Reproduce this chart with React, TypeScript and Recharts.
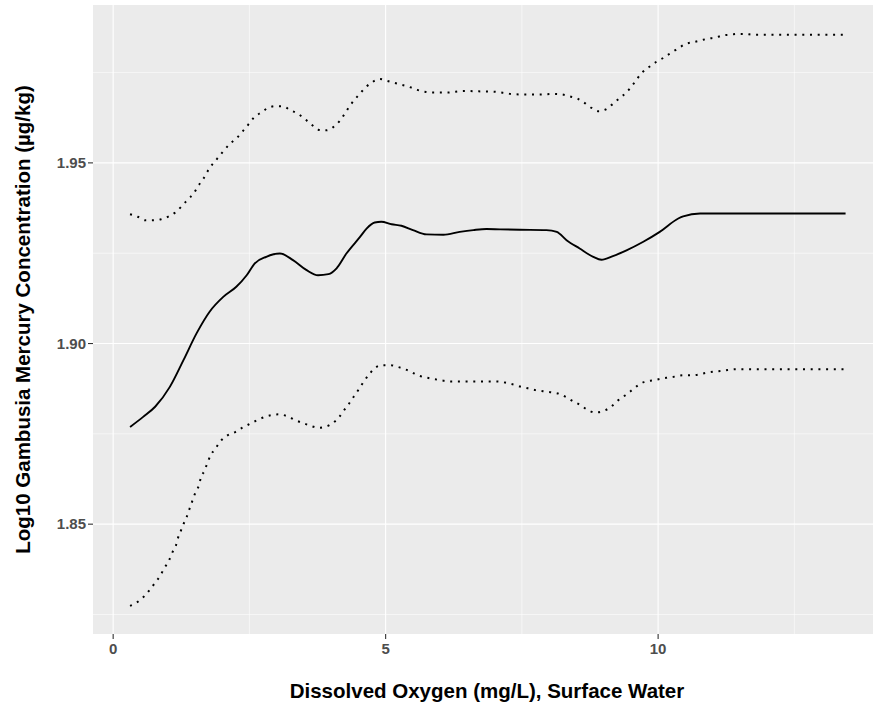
import React from 'react';
import { LineChart, Line, XAxis, YAxis, CartesianGrid, Label } from 'recharts';

// smoothed fit and its upper / lower confidence bands
const fitX = [0.31, 0.55, 0.77, 1.04, 1.29, 1.53, 1.77, 2.02, 2.26, 2.45, 2.6, 2.81, 3.06, 3.3, 3.55, 3.76, 3.95, 4.1, 4.28, 4.53, 4.65, 4.8, 4.92, 5.11, 5.29, 5.5, 5.75, 6.06, 6.36, 6.61, 6.85, 7.1, 7.46, 7.95, 8.14, 8.32, 8.56, 8.81, 8.96, 9.17, 9.42, 9.72, 10.03, 10.37, 10.46, 10.77, 13.44];
const fitY = [1.8769, 1.8797, 1.8825, 1.888, 1.8954, 1.9028, 1.9088, 1.9129, 1.9157, 1.9189, 1.9222, 1.924, 1.9249, 1.9231, 1.9203, 1.9189, 1.9192, 1.9208, 1.9249, 1.9295, 1.9318, 1.9335, 1.9337, 1.933, 1.9326, 1.9314, 1.9302, 1.9301, 1.9309, 1.9314, 1.9317, 1.9316, 1.9315, 1.9314, 1.9309, 1.9286, 1.9263, 1.924, 1.9232, 1.9242, 1.9258, 1.9281, 1.9309, 1.9346, 1.9352, 1.936, 1.936];

const upperX = [0.31, 0.45, 0.59, 0.73, 0.88, 1.02, 1.15, 1.27, 1.38, 1.48, 1.56, 1.65, 1.73, 1.81, 1.91, 2.02, 2.15, 2.27, 2.38, 2.48, 2.58, 2.72, 2.83, 2.97, 3.11, 3.25, 3.39, 3.52, 3.64, 3.76, 3.9, 4.04, 4.15, 4.25, 4.33, 4.42, 4.53, 4.63, 4.75, 4.89, 5.03, 5.17, 5.3, 5.44, 5.58, 5.72, 5.86, 6.14, 6.43, 6.71, 6.99, 7.28, 7.55, 7.83, 8.11, 8.25, 8.38, 8.52, 8.65, 8.78, 8.91, 9.04, 9.16, 9.29, 9.42, 9.52, 9.61, 9.72, 9.84, 9.97, 10.1, 10.23, 10.37, 10.5, 10.64, 10.78, 10.92, 11.06, 11.19, 11.34, 11.46, 11.6, 11.74, 13.44];
const upperY = [1.9358, 1.9351, 1.9341, 1.9341, 1.9344, 1.9352, 1.9364, 1.9382, 1.94, 1.9416, 1.9436, 1.9455, 1.9476, 1.9494, 1.9512, 1.9532, 1.9554, 1.9569, 1.9588, 1.9606, 1.9625, 1.964, 1.9651, 1.9657, 1.9657, 1.9646, 1.9636, 1.9621, 1.9606, 1.9592, 1.959, 1.9599, 1.9615, 1.9636, 1.9655, 1.9673, 1.9692, 1.9709, 1.9723, 1.9732, 1.9727, 1.9721, 1.9716, 1.971, 1.9702, 1.9697, 1.9695, 1.9695, 1.9699, 1.9698, 1.9697, 1.9691, 1.9689, 1.9689, 1.9691, 1.9689, 1.9684, 1.9678, 1.9666, 1.9652, 1.9643, 1.9648, 1.9662, 1.9679, 1.9695, 1.9713, 1.9732, 1.9752, 1.9766, 1.978, 1.9791, 1.9804, 1.9817, 1.9829, 1.9834, 1.9839, 1.9844, 1.9847, 1.9853, 1.9855, 1.9857, 1.9857, 1.9855, 1.9855];

const lowerX = [0.31, 0.45, 0.56, 0.67, 0.77, 0.87, 0.94, 1.02, 1.08, 1.15, 1.19, 1.24, 1.29, 1.35, 1.4, 1.45, 1.5, 1.57, 1.61, 1.68, 1.73, 1.79, 1.88, 1.97, 2.1, 2.24, 2.37, 2.5, 2.63, 2.77, 2.91, 3.05, 3.19, 3.34, 3.48, 3.61, 3.76, 3.9, 4.03, 4.14, 4.24, 4.33, 4.42, 4.51, 4.6, 4.7, 4.8, 4.94, 5.08, 5.23, 5.37, 5.5, 5.63, 5.77, 5.91, 6.06, 6.2, 7.05, 7.19, 7.33, 7.47, 7.61, 7.75, 7.89, 8.04, 8.18, 8.31, 8.43, 8.57, 8.7, 8.85, 8.99, 9.13, 9.26, 9.4, 9.52, 9.63, 9.77, 9.91, 10.06, 10.2, 10.33, 10.46, 10.6, 10.74, 10.88, 11.02, 11.16, 11.28, 11.43, 13.42];
const lowerY = [1.8274, 1.8285, 1.8299, 1.8318, 1.8338, 1.8359, 1.8379, 1.8398, 1.842, 1.844, 1.8462, 1.8481, 1.85, 1.852, 1.8542, 1.8563, 1.8584, 1.8606, 1.8629, 1.8649, 1.867, 1.8691, 1.871, 1.873, 1.8746, 1.8755, 1.8767, 1.8777, 1.8787, 1.8796, 1.8802, 1.8804, 1.8799, 1.8788, 1.878, 1.8773, 1.8767, 1.877, 1.878, 1.8795, 1.8816, 1.8834, 1.8854, 1.8874, 1.8895, 1.8915, 1.8932, 1.894, 1.894, 1.8935, 1.8928, 1.8919, 1.891, 1.8905, 1.8901, 1.8897, 1.8895, 1.8895, 1.8892, 1.8887, 1.8881, 1.8876, 1.8871, 1.8868, 1.8865, 1.8861, 1.8852, 1.8841, 1.883, 1.8817, 1.8809, 1.8813, 1.8824, 1.8842, 1.8857, 1.8871, 1.8884, 1.8895, 1.8898, 1.8903, 1.8906, 1.8909, 1.8912, 1.8912, 1.8914, 1.8919, 1.8922, 1.8924, 1.8927, 1.8929, 1.8929];

const xTicks = [0, 5, 10];
const xMinor = [2.5, 7.5, 12.5];
const yTicks = [1.85, 1.9, 1.95];
const yMinor = [1.825, 1.875, 1.925, 1.975];

const toPoints = (xs: number[], ys: number[]) => xs.map((x, i) => ({ x, y: ys[i] }));

const fit = toPoints(fitX, fitY);
const upper = toPoints(upperX, upperY);
const lower = toPoints(lowerX, lowerY);

const tickStyle = { fill: '#4D4D4D', fontSize: 15, fontWeight: 'bold' as const };
const titleStyle = { fontFamily: '"Liberation Sans", Arial, sans-serif', fontSize: 20.5, fontWeight: 'bold' as const, fill: '#000' };

export default function App() {
  return (
    <div style={{ position: 'absolute', left: 0, top: 0, width: 873, height: 708, overflow: 'hidden', background: '#fff', fontFamily: '"Liberation Sans", Arial, sans-serif' }}>
      <LineChart width={890} height={708} margin={{ top: 5, right: 9, bottom: 0, left: 0 }}>
        <CartesianGrid
          fill="#EBEBEB"
          stroke="#fff"
          strokeWidth={0.55}
          horizontalValues={yMinor}
          verticalValues={xMinor}
        />
        <CartesianGrid
          stroke="#fff"
          strokeWidth={1.1}
          horizontalValues={yTicks}
          verticalValues={xTicks}
        />
        <XAxis
          type="number"
          dataKey="x"
          domain={[-0.37, 14.09]}
          ticks={xTicks}
          allowDataOverflow
          height={74}
          tickSize={5}
          tickMargin={4}
          axisLine={false}
          tickLine={{ stroke: '#333', strokeWidth: 1.1 }}
          tick={tickStyle}
        >
          <Label
            content={({ viewBox }: any) => (
              <text x={viewBox.x + viewBox.width / 2} y={698} textAnchor="middle" style={titleStyle}>
                Dissolved Oxygen (mg/L), Surface Water
              </text>
            )}
          />
        </XAxis>
        <YAxis
          type="number"
          domain={[1.8196, 1.9937]}
          ticks={yTicks}
          allowDataOverflow
          width={93}
          tickSize={5}
          tickMargin={2}
          axisLine={false}
          tickLine={{ stroke: '#333', strokeWidth: 1.1 }}
          tick={tickStyle}
          tickFormatter={(v: number) => v.toFixed(2)}
        >
          <Label
            content={({ viewBox }: any) => {
              const cy = viewBox.y + viewBox.height / 2;
              return (
                <text x={30} y={cy} transform={`rotate(-90 30 ${cy})`} textAnchor="middle" style={titleStyle}>
                  Log10 Gambusia Mercury Concentration (µg/kg)
                </text>
              );
            }}
          />
        </YAxis>
        <Line data={upper} dataKey="y" type="monotone" stroke="#000" strokeWidth={2} strokeDasharray="2 5.7" dot={false} isAnimationActive={false} />
        <Line data={lower} dataKey="y" type="monotone" stroke="#000" strokeWidth={2} strokeDasharray="2 5.7" dot={false} isAnimationActive={false} />
        <Line data={fit} dataKey="y" type="monotone" stroke="#000" strokeWidth={1.9} dot={false} isAnimationActive={false} />
      </LineChart>
    </div>
  );
}
